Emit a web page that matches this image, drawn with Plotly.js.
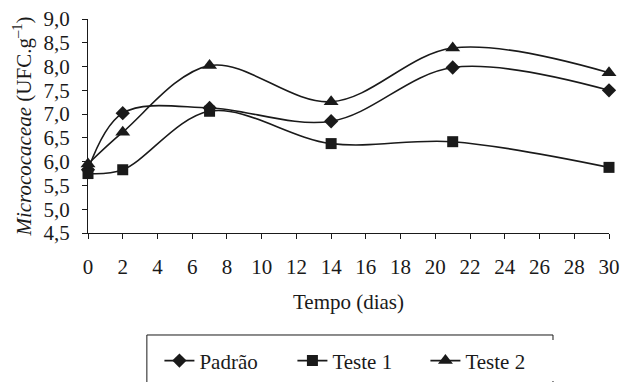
<!DOCTYPE html>
<html><head><meta charset="utf-8">
<script src="https://cdn.plot.ly/plotly-3.0.1.min.js"></script>
<style>html,body{margin:0;padding:0;background:#fff;}#chart{width:622px;height:382px;}</style>
</head><body><div id="chart"></div>
<script>
const days = [0, 2, 7, 14, 21, 30];
const padrao = [5.83, 7.02, 7.13, 6.85, 7.98, 7.50];
const teste1 = [5.75, 5.83, 7.06, 6.38, 6.42, 5.88];
const teste2 = [5.95, 6.62, 8.02, 7.26, 8.39, 7.87];
const seriesNames = ['Padrão', 'Teste 1', 'Teste 2'];
const symbols = ['diamond', 'square', 'triangle-up'];
const allValues = [padrao, teste1, teste2];

const font = "'Liberation Serif', 'Times New Roman', serif";
const traces = allValues.map((vals, i) => ({
  x: days, y: vals, name: seriesNames[i], type: 'scatter', mode: 'lines+markers',
  line: {shape: 'spline', smoothing: 1, color: '#1a1a1a', width: 1.6},
  marker: {symbol: symbols[i], size: i === 2 ? 13 : 11, color: '#1a1a1a'},
  cliponaxis: false
}));

const layout = {
  width: 622, height: 382,
  margin: {l: 88, r: 13, t: 19, b: 149, autoexpand: false},
  paper_bgcolor: '#fff', plot_bgcolor: '#fff',
  separators: ',.',
  font: {family: font, size: 21, color: '#1a1a1a'},
  showlegend: true,
  legend: {orientation: 'h', x: 0.52, xanchor: 'center', y: -0.598, yanchor: 'middle',
    borderwidth: 0, font: {family: font, size: 21},
    itemwidth: 30, entrywidth: 88, traceorder: 'normal'},
  shapes: [{type: 'rect', xref: 'paper', yref: 'paper', x0: 0.113, x1: 0.8925, y0: -0.4766, y1: -0.9,
    line: {color: '#1a1a1a', width: 1}, fillcolor: 'rgba(0,0,0,0)'}],
  xaxis: {range: [0, 30], dtick: 2, tick0: 0, showgrid: false, zeroline: false,
    showline: true, linecolor: '#1a1a1a', linewidth: 1, ticks: 'outside', ticklen: 5,
    tickcolor: '#1a1a1a', tickfont: {family: font, size: 21}, ticklabelstandoff: 10,
    title: {text: 'Tempo (dias)', font: {family: font, size: 21}, standoff: 16}},
  yaxis: {range: [4.5, 9], dtick: 0.5, tick0: 4.5, tickformat: '.1f', showgrid: false, zeroline: false,
    showline: true, linecolor: '#1a1a1a', linewidth: 1, ticks: 'outside', ticklen: 5,
    tickcolor: '#1a1a1a', tickfont: {family: font, size: 21}, ticklabelstandoff: 8,
    title: {text: '<i>Micrococaceae</i> (UFC.g<sup>–1</sup>)', font: {family: font, size: 21}, standoff: 6}}
};
Plotly.newPlot('chart', traces, layout, {staticPlot: true, displayModeBar: false});
</script></body></html>
